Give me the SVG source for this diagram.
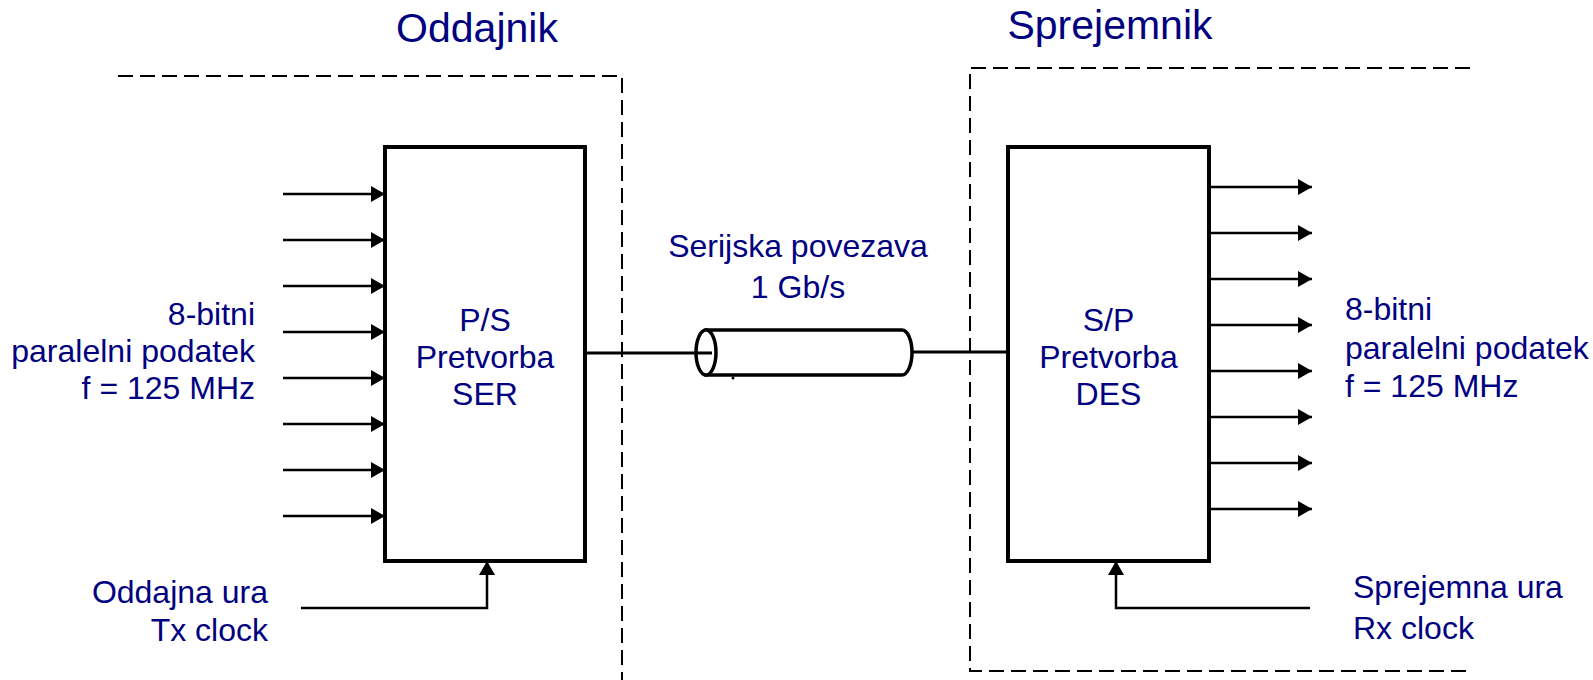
<svg xmlns="http://www.w3.org/2000/svg" width="1593" height="680" viewBox="0 0 1593 680">
<style>
.t{font-family:"Liberation Sans",Arial,sans-serif;fill:#000080;font-size:32px}
.title{font-size:41px}
.box{fill:#fff;stroke:#000;stroke-width:4}
.dash{fill:none;stroke:#000;stroke-width:2;stroke-dasharray:15 7}
.ln{fill:none;stroke:#000;stroke-width:2.5}
.cab{fill:#fff;stroke:#000;stroke-width:3.5}
</style>
<defs>
<marker id="ah" markerUnits="userSpaceOnUse" markerWidth="15" markerHeight="16" refX="14" refY="8" orient="auto">
<path d="M0,0 L14,8 L0,16 z" fill="#000"/>
</marker>
</defs>
<rect width="1593" height="680" fill="#fff"/>
<g id="tx-region">
<path class="dash" d="M118,76 H622 V680"/>
<text class="t title" x="477" y="42" text-anchor="middle">Oddajnik</text>
</g>
<g id="rx-region">
<path class="dash" d="M1470,68 H970 V671 H1470"/>
<text class="t title" x="1110" y="39" text-anchor="middle">Sprejemnik</text>
</g>
<g id="connectors">
<path class="ln" d="M283,194 H385" marker-end="url(#ah)"/>
<path class="ln" d="M283,240 H385" marker-end="url(#ah)"/>
<path class="ln" d="M283,286 H385" marker-end="url(#ah)"/>
<path class="ln" d="M283,332 H385" marker-end="url(#ah)"/>
<path class="ln" d="M283,378 H385" marker-end="url(#ah)"/>
<path class="ln" d="M283,424 H385" marker-end="url(#ah)"/>
<path class="ln" d="M283,470 H385" marker-end="url(#ah)"/>
<path class="ln" d="M283,516 H385" marker-end="url(#ah)"/>
<path class="ln" d="M1209,187 H1312" marker-end="url(#ah)"/>
<path class="ln" d="M1209,233 H1312" marker-end="url(#ah)"/>
<path class="ln" d="M1209,279 H1312" marker-end="url(#ah)"/>
<path class="ln" d="M1209,325 H1312" marker-end="url(#ah)"/>
<path class="ln" d="M1209,371 H1312" marker-end="url(#ah)"/>
<path class="ln" d="M1209,417 H1312" marker-end="url(#ah)"/>
<path class="ln" d="M1209,463 H1312" marker-end="url(#ah)"/>
<path class="ln" d="M1209,509 H1312" marker-end="url(#ah)"/>
<path class="ln" d="M301,608 H487 V561" marker-end="url(#ah)"/>
<path class="ln" d="M1310,608 H1116 V561" marker-end="url(#ah)"/>
<path d="M585,353 H707" stroke="#000" stroke-width="3" fill="none"/>
<path d="M912,352 H1008" stroke="#000" stroke-width="3" fill="none"/>
</g>
<g id="cable">
<path class="cab" d="M706,330 H902 A10,22.5 0 0 1 902,375 H706 Z"/>
<ellipse class="cab" cx="706" cy="352.5" rx="10" ry="22.5"/>
<path d="M696,353 H712" stroke="#000" stroke-width="3"/>
<circle cx="733" cy="378" r="1.5" fill="#000"/>
<text class="t" x="798" y="257" text-anchor="middle">Serijska povezava</text>
<text class="t" x="798" y="298" text-anchor="middle">1 Gb/s</text>
</g>
<g id="ser">
<rect class="box" x="385" y="147" width="200" height="414"/>
<text class="t" x="485" y="331" text-anchor="middle">P/S</text>
<text class="t" x="485" y="368" text-anchor="middle">Pretvorba</text>
<text class="t" x="485" y="405" text-anchor="middle">SER</text>
</g>
<g id="des">
<rect class="box" x="1008" y="147" width="201" height="414"/>
<text class="t" x="1108.5" y="331" text-anchor="middle">S/P</text>
<text class="t" x="1108.5" y="368" text-anchor="middle">Pretvorba</text>
<text class="t" x="1108.5" y="405" text-anchor="middle">DES</text>
</g>
<g id="in-label">
<text class="t" x="255" y="325" text-anchor="end">8-bitni </text>
<text class="t" x="255" y="362" text-anchor="end">paralelni podatek</text>
<text class="t" x="255" y="399" text-anchor="end">f = 125 MHz</text>
</g>
<g id="out-label">
<text class="t" x="1345" y="320">8-bitni</text>
<text class="t" x="1345" y="359">paralelni podatek</text>
<text class="t" x="1345" y="397">f = 125 MHz</text>
</g>
<g id="tx-clock">
<text class="t" x="268" y="603" text-anchor="end">Oddajna ura</text>
<text class="t" x="268" y="641" text-anchor="end">Tx clock</text>
</g>
<g id="rx-clock">
<text class="t" x="1353" y="598">Sprejemna ura</text>
<text class="t" x="1353" y="639">Rx clock</text>
</g>
</svg>
